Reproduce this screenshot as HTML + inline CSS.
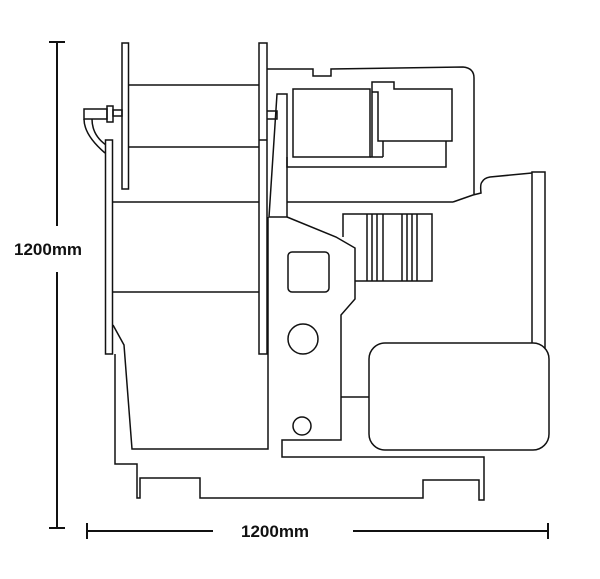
<!DOCTYPE html>
<html><head><meta charset="utf-8"><style>
html,body{margin:0;padding:0;background:#fff;width:600px;height:579px;overflow:hidden}
svg{display:block}
text{font-family:"Liberation Sans",sans-serif;font-weight:bold;font-size:17px;fill:#111}
</style></head><body>
<svg width="600" height="579" viewBox="0 0 600 579" xmlns="http://www.w3.org/2000/svg">
<g fill="none" stroke="#111" stroke-width="1.5" stroke-linejoin="miter">
<!-- top housing -->
<path d="M267 69 L313 69 L313 76 L331 76 L331 69 L463 67 Q474 68 474 78 L474 194 M453 202 L473 195 L481 193 Q480 184 482 182 Q484 178 490 177 L532 173 M287 202 L453 202"/>
<!-- engine boxes -->
<rect x="293" y="89" width="77" height="68"/>
<path d="M372 157 L372 82 L394 82 L394 89 L452 89 L452 141 L378 141 L378 92 L372 92"/>
<path d="M383 141 L383 157 M287 157 L287 167 L446 167 L446 141 M370 157 L383 157"/>
<!-- left flange & drum -->
<rect x="122" y="43" width="6.5" height="146" fill="#fff"/>
<path d="M128.5 85 L259 85 M128.5 147 L259 147"/>
<!-- shaft -->
<rect x="107" y="106" width="6" height="16"/>
<rect x="113" y="110" width="9" height="6"/>
<rect x="84" y="109" width="23" height="10"/>
<path d="M84 119 Q84 135 105 153 M92 119 Q92 135 106 145"/>
<rect x="266.5" y="111" width="10.5" height="8"/>
<!-- body -->
<rect x="105.5" y="140" width="7" height="214" fill="#fff"/>
<path d="M112.5 202 L259 202 M112.5 292 L259 292"/>
<path d="M113 325 L124 345 L132 449 L268 449 L268 217"/>
<rect x="259" y="43" width="8" height="311" fill="#fff"/>
<path d="M259 140 L267 140"/>
<path d="M277 94 L287 94 L287 217 L269 217 Z"/>
<!-- column & base -->
<path d="M287 217 L336 237 L355 248 L355 299 L341 315 L341 440 L282 440 L282 457 L484 457 L484 500 L479 500 L479 480 L423 480 L423 498 L200 498 L200 478 L140 478 L140 498 L137 498 L137 464 L115 464 L115 354"/>
<rect x="288" y="252" width="41" height="40" rx="4"/>
<circle cx="303" cy="339" r="15"/>
<circle cx="302" cy="426" r="9"/>
<!-- radiator -->
<path d="M343 237 L343 214 L432 214 L432 281 L355 281"/>
<path d="M367 214 V281 M372 214 V281 M377 214 V281 M383 214 V281 M402 214 V281 M407 214 V281 M412 214 V281 M417 214 V281"/>
<!-- generator -->
<path d="M341 397 L369 397"/>
<rect x="532" y="172" width="13" height="180"/>
<rect x="369" y="343" width="180" height="107" rx="16" fill="#fff"/>
</g>
<!-- dimensions -->
<g stroke="#111" stroke-width="2">
<path d="M57 42 V226 M57 272 V528 M49 42 H65 M49 528 H65"/>
<path d="M87 523 V539 M87 531 H213 M353 531 H548 M548 523 V539"/>
</g>
<text x="14" y="255">1200mm</text>
<text x="241" y="537">1200mm</text>
</svg>
</body></html>
